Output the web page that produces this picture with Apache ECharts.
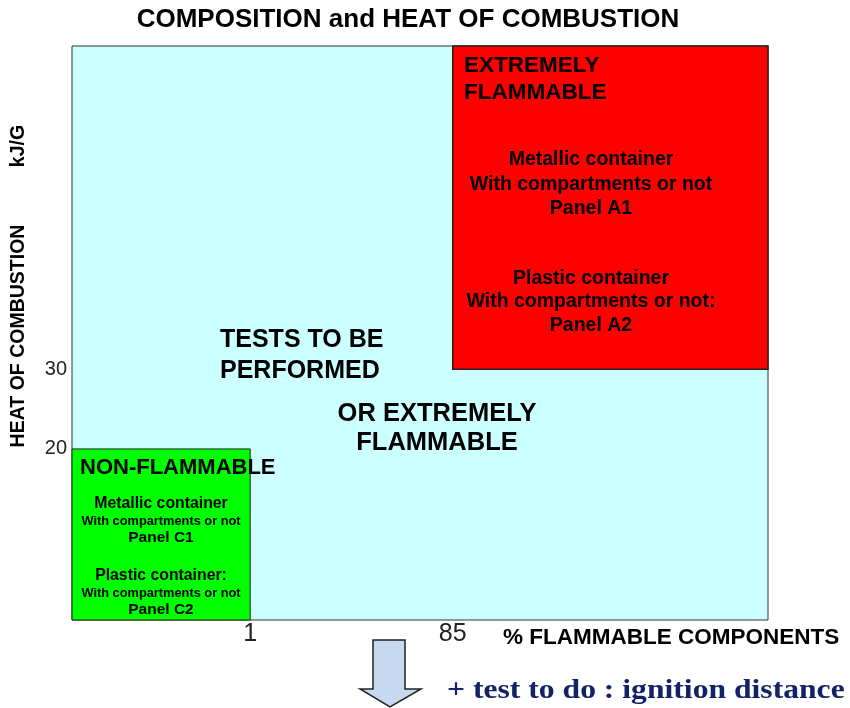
<!DOCTYPE html>
<html>
<head>
<meta charset="utf-8">
<script src="https://cdn.jsdelivr.net/npm/echarts@6/dist/echarts.min.js"></script>
<style>
  html, body { margin: 0; padding: 0; background: #fff; }
  #main { width: 850px; height: 708px; }
</style>
</head>
<body>
<div id="main"></div>
<script>
// tick labels (schematic axes, the thresholds are not to scale)
const xTickLabels = ['1', '85'];
const yTickLabels = ['20', '30'];
// where each threshold sits along its 0-100 schematic axis
const xThresholds = [25.6, 54.7];
const yThresholds = [29.8, 43.7];

const FONT = '"Liberation Sans", Arial, sans-serif';

// helper: one text line as graphic
function txt(text, x, y, size, align, opts) {
  opts = opts || {};
  return {
    type: 'text', x: x, y: y, rotation: opts.rotation || 0, scaleX: opts.scaleX || 1, z: 100,
    style: {
      text: text, fill: opts.color || '#000',
      font: (opts.weight || 'bold') + ' ' + size + 'px ' + (opts.family || FONT),
      textAlign: align || 'left', textVerticalAlign: 'middle'
    }
  };
}

const chart = echarts.init(document.getElementById('main'));

chart.setOption({
  backgroundColor: '#fff',
  animation: false,
  grid: {
    left: 72, top: 46, right: 82, bottom: 88,
    show: true, backgroundColor: '#CCFFFF', borderColor: '#333', borderWidth: 1
  },
  xAxis: {
    type: 'value', min: 0, max: 100,
    splitLine: { show: false }, axisLine: { show: false }, axisTick: { show: false },
    axisLabel: {
      customValues: xThresholds, margin: 2, fontSize: 25, color: '#222', fontFamily: FONT,
      formatter: v => xTickLabels[xThresholds.indexOf(v)]
    }
  },
  yAxis: {
    type: 'value', min: 0, max: 100,
    splitLine: { show: false }, axisLine: { show: false }, axisTick: { show: false },
    axisLabel: {
      customValues: yThresholds, margin: 5, fontSize: 20, color: '#222', fontFamily: FONT,
      formatter: v => yTickLabels[yThresholds.indexOf(v)]
    }
  },
  series: [{
    type: 'line', data: [], silent: true,
    markArea: {
      silent: true,
      label: { show: false },
      data: [
        [{ xAxis: 0, yAxis: 0, itemStyle: { color: '#00FF00', borderColor: '#222', borderWidth: 1 } },
         { xAxis: xThresholds[0], yAxis: yThresholds[0] }],
        [{ xAxis: xThresholds[1], yAxis: yThresholds[1], itemStyle: { color: '#FF0000', borderColor: '#222', borderWidth: 1.5 } },
         { xAxis: 100, yAxis: 100 }]
      ]
    }
  }],
  graphic: [
    txt('COMPOSITION and HEAT OF COMBUSTION', 408, 20, 26, 'center'),
    // red zone
    txt('EXTREMELY', 464, 66, 22.5, 'left'),
    txt('FLAMMABLE', 464, 93, 22.5, 'left'),
    txt('Metallic container', 591, 160, 19.5, 'center'),
    txt('With compartments or not', 591, 185, 19.5, 'center'),
    txt('Panel A1', 591, 209, 19.5, 'center'),
    txt('Plastic container', 591, 279, 19.5, 'center'),
    txt('With compartments or not:', 591, 302, 19.5, 'center'),
    txt('Panel A2', 591, 326, 19.5, 'center'),
    // middle
    txt('TESTS TO BE', 220, 340, 25, 'left'),
    txt('PERFORMED', 220, 371, 25, 'left'),
    txt('OR EXTREMELY', 437, 414, 25.5, 'center'),
    txt('FLAMMABLE', 437, 443, 25.5, 'center'),
    // green zone
    txt('NON-FLAMMABLE', 80, 468, 22, 'left'),
    txt('Metallic container', 161, 504, 15.8, 'center'),
    txt('With compartments or not', 161, 521, 12.8, 'center'),
    txt('Panel C1', 161, 538, 15.5, 'center'),
    txt('Plastic container:', 161, 576, 15.8, 'center'),
    txt('With compartments or not', 161, 593, 12.8, 'center'),
    txt('Panel C2', 161, 610, 15.5, 'center'),
    // axis names
    txt('% FLAMMABLE COMPONENTS', 503, 638, 22.5, 'left'),
    txt('HEAT OF COMBUSTION', 19, 336, 19.5, 'center', { rotation: Math.PI / 2 }),
    txt('kJ/G', 19, 146, 19.5, 'center', { rotation: Math.PI / 2 }),
    // arrow and note
    {
      type: 'polygon', z: 100,
      shape: { points: [[373, 640], [405, 640], [405, 689], [421, 689], [390, 707], [360, 689], [373, 689]] },
      style: { fill: '#C6D9F1', stroke: '#222', lineWidth: 1.5 }
    },
    txt('+ test to do : ignition distance', 447, 691, 28, 'left',
        { color: '#112266', scaleX: 1.13, family: '"Liberation Serif", "Times New Roman", serif' })
  ]
});
</script>
</body>
</html>
